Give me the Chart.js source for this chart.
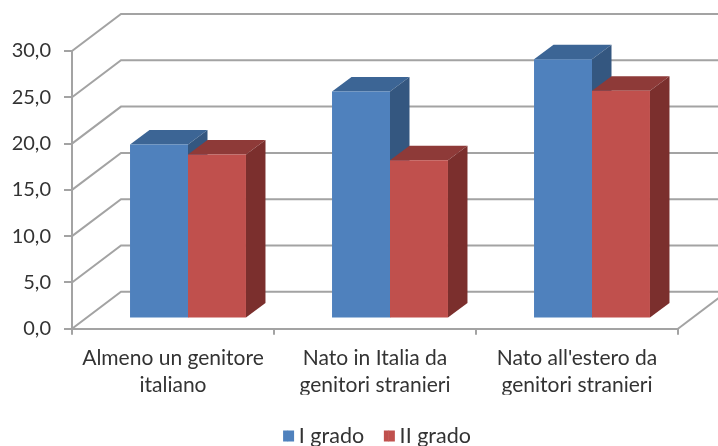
<!DOCTYPE html>
<html>
<head>
<meta charset="utf-8">
<style>html,body{margin:0;padding:0;background:#fff}#w{width:718px;height:446px}</style>
<script src="https://cdn.jsdelivr.net/npm/chart.js@4"></script>
</head>
<body>
<div id="w"><canvas id="c" width="718" height="446"></canvas></div>
<script>
const categories = [["Almeno un genitore","italiano"],["Nato in Italia da","genitori stranieri"],["Nato all'estero da","genitori stranieri"]];
const seriesNames = ["I grado","II grado"];
const grado1 = [18.8, 24.5, 28.0];
const grado2 = [17.7, 17.1, 24.6];

const FONT = "Lato";
const TEXT = "#333333";
const AXIS = "#a3a3a3";
const WALL = {dx:49, dy:-37};
const PLANE = {dx:15, dy:-10.3};
const DEPTH = {dx:19.5, dy:-14.5};
const SWATCH = {w:11, h:11, nativeW:5};
const LEGEND_FONT = 21.5;
const LEGEND_SHIFT = 38;
const LEGEND_CY = 436;
const FACES = [
  {front:"#4f81bd", top:"#3c6595", side:"#345780"},
  {front:"#c0504d", top:"#8e3a38", side:"#7b2f2d"}
];

const box3d = {
  id:"box3d",
  afterLayout(chart){
    const l = chart.legend;
    const h = l.bottom - l.top;
    l.left += LEGEND_SHIFT; l.right += LEGEND_SHIFT;
    l.top = LEGEND_CY - LEGEND_FONT/2 - l.options.labels.padding;
    l.bottom = l.top + h;
    l.adjustHitBoxes();
  },
  beforeDatasetsDraw(chart){
    const {ctx, chartArea:a, scales:{y}} = chart;
    ctx.save();
    ctx.strokeStyle = AXIS; ctx.lineWidth = 2;
    y.ticks.forEach(t=>{
      const py = y.getPixelForValue(t.value);
      ctx.beginPath();
      ctx.moveTo(a.left, py);
      ctx.lineTo(a.left+WALL.dx, py+WALL.dy);
      ctx.lineTo(a.right+WALL.dx, py+WALL.dy);
      ctx.stroke();
    });
    const p0 = y.getPixelForValue(0);
    ctx.beginPath();
    ctx.moveTo(a.right, p0);
    ctx.lineTo(a.right+WALL.dx, p0+WALL.dy);
    ctx.stroke();
    // depth faces, all painted before the native front faces
    ctx.translate(PLANE.dx, PLANE.dy);
    FACES.forEach((c,i)=>{
      chart.getDatasetMeta(i).data.forEach(b=>{
        const L = b.x - b.width/2, R = b.x + b.width/2, T = b.y, B = b.base;
        ctx.fillStyle = c.top;
        ctx.beginPath();
        ctx.moveTo(L,T); ctx.lineTo(R,T);
        ctx.lineTo(R+DEPTH.dx,T+DEPTH.dy); ctx.lineTo(L+DEPTH.dx,T+DEPTH.dy);
        ctx.closePath(); ctx.fill();
        ctx.fillStyle = c.side;
        ctx.beginPath();
        ctx.moveTo(R,T); ctx.lineTo(R+DEPTH.dx,T+DEPTH.dy);
        ctx.lineTo(R+DEPTH.dx,B+DEPTH.dy); ctx.lineTo(R,B);
        ctx.closePath(); ctx.fill();
      });
    });
    ctx.restore();
  },
  beforeDatasetDraw(chart){
    chart.ctx.save();
    chart.ctx.translate(PLANE.dx, PLANE.dy);
  },
  afterDatasetDraw(chart){ chart.ctx.restore(); },
  afterDraw(chart){
    // widen the native legend swatches while keeping the tight gap to the text
    const {ctx, legend} = chart;
    legend.legendHitBoxes.forEach((h,i)=>{
      ctx.fillStyle = FACES[i].front;
      ctx.fillRect(h.left+SWATCH.nativeW-0.5, LEGEND_CY-SWATCH.h/2, SWATCH.w-SWATCH.nativeW+0.5, SWATCH.h);
    });
  }
};

new Chart(document.getElementById("c"), {
  type:"bar",
  data:{
    labels:categories,
    datasets:[
      {label:seriesNames[0], data:grado1, backgroundColor:FACES[0].front, clip:false},
      {label:seriesNames[1], data:grado2, backgroundColor:FACES[1].front, clip:false}
    ]
  },
  options:{
    responsive:false,
    animation:false,
    devicePixelRatio:1,
    layout:{padding:{left:0,right:40,top:51,bottom:0}},
    datasets:{bar:{barPercentage:1,categoryPercentage:0.574}},
    plugins:{
      title:{display:false},
      tooltip:{enabled:false},
      legend:{
        position:"bottom",
        labels:{boxWidth:SWATCH.nativeW,boxHeight:SWATCH.h,padding:19.75,color:TEXT,font:{family:FONT,size:LEGEND_FONT}}
      }
    },
    scales:{
      x:{
        afterFit(s){s.height=66;},
        border:{color:AXIS,width:2},
        grid:{drawOnChartArea:false,color:AXIS,lineWidth:2,tickLength:6,offset:true},
        ticks:{color:TEXT,padding:10,maxRotation:0,font:{family:FONT,size:21,lineHeight:1.286}}
      },
      y:{
        min:0,max:30,
        afterFit(s){s.width=72;},
        border:{color:AXIS,width:2},
        grid:{drawOnChartArea:false,color:AXIS,lineWidth:2,tickLength:8},
        ticks:{stepSize:5,color:TEXT,padding:13,font:{family:FONT,size:20},
          callback:v=>v.toFixed(1).replace(".",",")}
      }
    }
  },
  plugins:[box3d]
});
</script>
</body>
</html>
